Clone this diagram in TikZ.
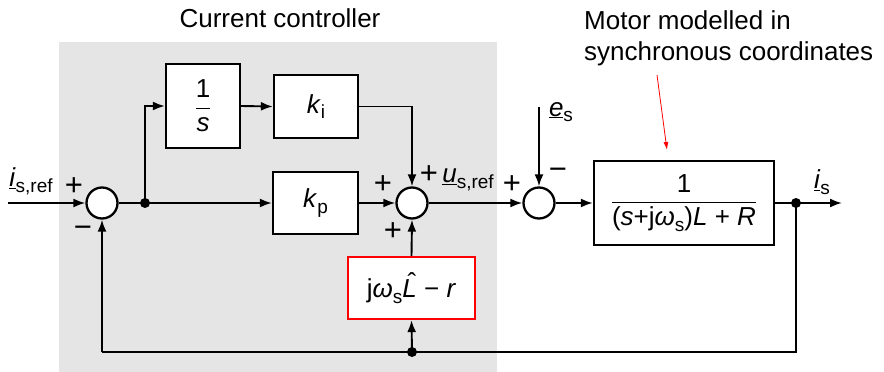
\documentclass[tikz,border=0pt]{standalone}
\usepackage{fontspec}
\setmainfont{Liberation Sans}
\usetikzlibrary{arrows.meta}
\newcommand{\ssub}[1]{\raisebox{-0.22em}{\fontsize{19}{19}\selectfont #1}}
\newcommand{\Lhat}{\makebox[0pt][l]{\hspace{0.2em}\raisebox{0.22em}{ˆ}}\textit{L}}
\begin{document}
\begin{tikzpicture}[x=1pt,y=-1pt,
  every node/.style={font=\fontsize{26}{31}\selectfont},
  blk/.style={draw, line width=2.3pt, fill=white, inner sep=0pt},
  sumc/.style={draw, circle, line width=2.3pt, fill=white, minimum size=31pt, inner sep=0pt},
  dot/.style={circle, fill=black, minimum size=10pt, inner sep=0pt},
  wire/.style={line width=1.9pt},
  arr/.style={wire, -{Latex[length=12pt,width=9pt]}},
  lbl/.style={inner sep=0pt},
  sgn/.style={inner sep=0pt, font=\fontsize{31}{31}\selectfont}]
\useasboundingbox (0,0) rectangle (884,372);
\fill[black!10] (59,42) rectangle (497,372);

% blocks
\node[blk, minimum width=74pt, minimum height=84pt] (integ) at (203,106) {$\displaystyle\frac{\mbox{1}}{\mbox{\textit{s}}}$};
\node[blk, minimum width=84pt, minimum height=63pt] (ki) at (316,106.5) {\textit{k}\ssub{i}};
\node[blk, minimum width=85pt, minimum height=62pt] (kp) at (315.5,203) {\textit{k}\ssub{p}};
\node[blk, draw=red, minimum width=127pt, minimum height=62pt] (fb) at (411.5,288) {j\textit{ω}\ssub{s}\Lhat\ − \textit{r}};
\node[blk, minimum width=180pt, minimum height=84pt] (motor) at (684,203) {$\displaystyle\frac{\mbox{1}}{\mbox{(\textit{s}+j\textit{ω}\ssub{s})\textit{L} + \textit{R}}}$};

% summing junctions
\node[sumc] (s1) at (102,203) {};
\node[sumc] (s2) at (412,203) {};
\node[sumc] (s3) at (539,203) {};

% coordinates and dots
\coordinate (in) at (8,203);
\node[dot] (j1) at (145,203) {};
\node[dot] (j2) at (796,203) {};
\node[dot] (j3) at (412,352) {};
\coordinate (bl) at (102,352);
\coordinate (es) at (539,107);
\coordinate (out) at (842,203);

% connectors
\draw[arr] (in) -- (s1.west);
\draw[wire] (s1.east) -- (j1.center);
\draw[arr] (j1.center) |- (integ.west);
\draw[arr] (j1.center) -- (kp.west);
\draw[arr] (integ.east) -- (ki.west);
\draw[arr] (ki.east) -| (s2.north);
\draw[arr] (kp.east) -- (s2.west);
\draw[arr] (s2.east) -- (s3.west);
\draw[arr] (es) -- (s3.north);
\draw[arr] (s3.east) -- (motor.west);
\draw[wire] (motor.east) -- (j2.center);
\draw[arr] (j2.center) -- (out);
\draw[wire] (j2.center) |- (bl);
\draw[arr] (bl) -- (s1.south);
\draw[arr] (j3.center) -- (fb.south);
\draw[arr] (fb.north) -- (s2.south);

% labels
\node[lbl] (lin) at (31,181) {\underline{\textit{i}}\ssub{s,ref}};
\node[sgn] (p1) at (74,187) {+};
\node[sgn] (m1) at (83,232) {−};
\node[sgn] (p2) at (383,185) {+};
\node[sgn] (p3) at (429,175) {+};
\node[sgn] (p4) at (393,232) {+};
\node[lbl] (lu) at (468,180) {\underline{\textit{u}}\ssub{s,ref}};
\node[sgn] (p5) at (512,185) {+};
\node[sgn] (m3) at (558,174) {−};
\node[lbl] (le) at (561,112) {\underline{\textit{e}}\ssub{s}};
\node[lbl] (lis) at (822,182) {\underline{\textit{i}}\ssub{s}};
\node[lbl] (cc) at (280,18) {Current controller};
\node[lbl, align=left, anchor=north west] (mt) at (584,10) {Motor modelled in\\synchronous coordinates};
\coordinate (ra) at (657,75);
\coordinate (rb) at (667,150);
\draw[red, line width=0.8pt, -{Latex[length=8pt,width=5pt]}] (ra) -- (rb);
\end{tikzpicture}
\end{document}
